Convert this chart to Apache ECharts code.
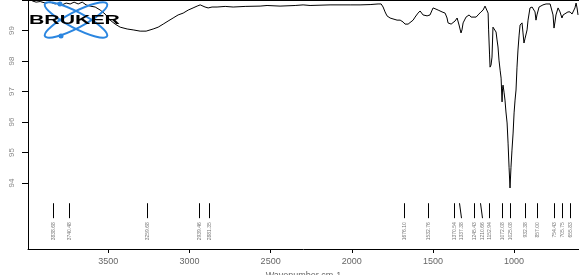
<!DOCTYPE html>
<html>
<head>
<meta charset="utf-8">
<script src="https://cdn.jsdelivr.net/npm/echarts@6/dist/echarts.min.js"></script>
<style>html,body{margin:0;padding:0;background:#fff}#c{width:579px;height:275px}</style>
</head>
<body>
<div id="c"></div>
<script>
// Wavenumber (cm-1) and transmittance (%)
const wavenumbers = [3969,3945,3920,3889,3858,3828,3809,3785,3760,3735,3711,3686,3661,3637,3612,3581,3550,3520,3489,3458,3427,3384,3347,3304,3267,3224,3193,3162,3132,3101,3070,3039,3008,2978,2953,2934,2922,2904,2885,2861,2830,2780,2731,2657,2565,2522,2442,2349,2300,2257,2134,2010,1949,1887,1838,1819,1807,1795,1783,1764,1746,1721,1702,1684,1672,1653,1641,1622,1610,1592,1579,1561,1536,1518,1505,1499,1481,1468,1444,1425,1413,1407,1388,1376,1364,1351,1339,1327,1321,1314,1296,1277,1265,1253,1234,1222,1204,1191,1179,1173,1167,1160,1157,1151,1148,1142,1136,1130,1120,1111,1105,1099,1093,1086,1080,1076,1074,1071,1068,1062,1056,1050,1043,1037,1031,1025,1019,1013,1006,1000,994,988,982,976,969,963,951,945,939,932,920,914,902,889,883,871,865,859,846,834,822,803,791,778,766,760,754,748,742,729,717,705,698,686,668,655,643,637,625,618,612,606];
const transmittance = [99.97,99.93,99.95,99.90,99.93,99.87,99.90,99.84,99.90,99.87,99.93,99.87,99.93,99.84,99.80,99.77,99.67,99.54,99.34,99.21,99.11,99.05,99.02,98.98,98.98,99.05,99.11,99.21,99.31,99.41,99.51,99.57,99.67,99.74,99.80,99.84,99.85,99.77,99.74,99.77,99.77,99.79,99.77,99.79,99.80,99.82,99.80,99.82,99.84,99.82,99.84,99.84,99.84,99.85,99.87,99.87,99.77,99.61,99.48,99.41,99.38,99.34,99.34,99.28,99.21,99.21,99.25,99.34,99.44,99.57,99.64,99.51,99.48,99.51,99.67,99.74,99.70,99.67,99.61,99.57,99.41,99.25,99.21,99.21,99.31,99.41,99.18,98.92,99.02,99.25,99.44,99.51,99.44,99.38,99.44,99.51,99.61,99.67,99.80,99.84,99.74,99.57,99.02,98.20,97.80,97.87,98.13,99.11,99.08,98.95,98.69,98.46,98.03,97.70,97.44,97.38,96.66,97.11,97.21,96.98,96.72,96.33,95.97,95.31,94.52,93.84,94.52,95.08,95.64,96.30,96.72,97.05,97.80,98.36,98.85,99.18,99.25,98.92,98.59,98.75,99.02,99.34,99.74,99.77,99.77,99.61,99.34,99.51,99.77,99.80,99.84,99.87,99.90,99.87,99.84,99.51,99.08,99.28,99.51,99.74,99.61,99.41,99.51,99.57,99.61,99.61,99.54,99.51,99.74,99.90,99.74,99.51];
// Peak picks (cm-1)
const peakWavenumbers = [3838.68,3740.48,3259.68,2939.46,2881.35,1676.10,1532.76,1370.54,1337.38,1245.43,1210.66,1152.94,1072.08,1025.08,932.38,857.00,754.43,705.75,655.83];
// Axis ticks
const xTickValues = [3500,3000,2500,2000,1500,1000];
const yTickValues = [94,95,96,97,98,99,100];
const yLabelValues = [94,95,96,97,98,99];

const chart = echarts.init(document.getElementById('c'), null, {renderer:'canvas'});
const XMIN = 600, XMAX = 3995, YMIN = 91.84, YMAX = 100;

const spectrum = wavenumbers.map((w, i) => [w, transmittance[i]]);

function renderPeak(params, api) {
  const i = params.dataIndex;
  const xs = peakWavenumbers.map(w => api.coord([w, 93.34])[0]);
  const lx = [];
  for (let k = 0; k < xs.length; k++) {
    lx.push(k === 0 ? xs[k] : Math.max(xs[k], lx[k - 1] + 7.5));
  }
  const yTop = api.coord([peakWavenumbers[i], 93.34])[1];
  const yBot = api.coord([peakWavenumbers[i], 92.85])[1];
  const yTxt = api.coord([peakWavenumbers[i], 92.72])[1];
  const x1 = Math.round(xs[i]) + 0.5, x2 = Math.round(lx[i]) + 0.5;
  return {
    type: 'group',
    children: [
      {type: 'line', shape: {x1: x1, y1: yTop, x2: x2, y2: yBot}, style: {stroke: '#000', lineWidth: 1}},
      {type: 'text', x: x2, y: yTxt, rotation: Math.PI / 2,
        style: {text: peakWavenumbers[i].toFixed(2), fontSize: 5, fontFamily: 'Liberation Sans', fill: '#777', align: 'right', verticalAlign: 'middle'}}
    ]
  };
}

const blue = '#2b86e0';
chart.setOption({
  animation: false,
  backgroundColor: '#fff',
  grid: {left: 28, right: 0, top: 0, bottom: 26, containLabel: false, outerBoundsMode: 'none'},
  xAxis: [{
    type: 'value', inverse: true, min: XMIN, max: XMAX, position: 'bottom',
    axisLine: {show: true, lineStyle: {color: '#000', width: 1}},
    axisTick: {show: true, length: 4, customValues: xTickValues, lineStyle: {color: '#000'}},
    axisLabel: {customValues: xTickValues, formatter: v => String(v), fontSize: 9, color: '#666', margin: 8, fontFamily: 'Liberation Sans'},
    splitLine: {show: false},
    name: 'Wavenumber cm-1', nameLocation: 'middle', nameGap: 17,
    nameTextStyle: {fontSize: 9, color: '#666', fontFamily: 'Liberation Sans'}
  }, {
    type: 'value', inverse: true, min: XMIN, max: XMAX, position: 'top',
    axisLine: {show: true, lineStyle: {color: '#000', width: 2}},
    axisTick: {show: false}, axisLabel: {show: false}, splitLine: {show: false}
  }],
  yAxis: {
    type: 'value', min: YMIN, max: YMAX,
    axisLine: {show: true, lineStyle: {color: '#000', width: 1}},
    axisTick: {show: true, length: 6, customValues: yTickValues, lineStyle: {color: '#000'}},
    axisLabel: {customValues: yLabelValues, formatter: v => String(v), rotate: 90, fontSize: 8, color: '#888', margin: 12, fontFamily: 'Liberation Sans'},
    splitLine: {show: false}
  },
  series: [{
    type: 'line', data: spectrum, showSymbol: false, symbol: 'none',
    lineStyle: {color: '#000', width: 1}, z: 2
  }, {
    type: 'custom', data: peakWavenumbers.map(w => [w]), dimensions: ['wn'],
    encode: {x: 0}, renderItem: renderPeak, silent: true, z: 3
  }],
  graphic: [
    {type: 'ellipse', x: 76, y: 20, rotation: 0.48, shape: {cx: 0, cy: 0, rx: 35, ry: 8}, style: {fill: 'none', stroke: blue, lineWidth: 2}, z: 10},
    {type: 'ellipse', x: 76, y: 20, rotation: -0.48, shape: {cx: 0, cy: 0, rx: 35, ry: 8}, style: {fill: 'none', stroke: blue, lineWidth: 2}, z: 10},
    {type: 'circle', shape: {cx: 60, cy: 4, r: 2.5}, style: {fill: blue}, z: 10},
    {type: 'circle', shape: {cx: 61, cy: 36, r: 2.5}, style: {fill: blue}, z: 10},
    {type: 'text', x: 29, y: 14, scaleX: 1.7, style: {text: 'BRUKER', font: 'bold 12.5px "Liberation Sans"', fill: '#000', verticalAlign: 'top'}, z: 11}
  ]
});
</script>
</body>
</html>
